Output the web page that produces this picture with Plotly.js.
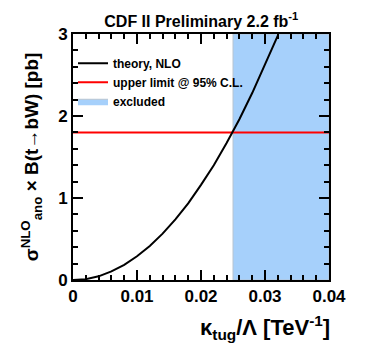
<!DOCTYPE html>
<html>
<head>
<meta charset="utf-8">
<script src="https://cdn.plot.ly/plotly-3.0.1.min.js"></script>
<style>
  body { margin: 0; background: #fff; }
  #plotArea { width: 366px; height: 351px; }
</style>
</head>
<body>
<div id="plotArea"></div>
<script>
// theory curve, NLO
var kappa = [0, 0.002, 0.004, 0.006, 0.008, 0.010, 0.012, 0.014, 0.016,
             0.018, 0.020, 0.022, 0.024, 0.026, 0.028, 0.030, 0.032];
var sigmaNLO = [0, 0.01, 0.045, 0.105, 0.185, 0.29, 0.415, 0.565, 0.74,
                0.935, 1.16, 1.40, 1.67, 1.96, 2.28, 2.62, 2.98];

// 95% C.L. upper limit
var limitX = [0, 0.04];
var limitY = [1.8, 1.8];

// excluded region
var excludedX = [0.025, 0.04, 0.04, 0.025, 0.025];
var excludedY = [0, 0, 3, 3, 0];

var xRange = [0, 0.04];
var yRange = [0, 3];

var excluded = {
    x: excludedX, y: excludedY,
    mode: 'lines', fill: 'toself',
    fillcolor: '#a6d0fb',
    line: { color: '#b8c4d0', width: 1 },
    name: 'excluded'
};

var limit = {
    x: limitX, y: limitY,
    mode: 'lines',
    line: { color: '#ff0000', width: 2 },
    name: 'upper limit @ 95% C.L.'
};

var theory = {
    x: kappa, y: sigmaNLO,
    mode: 'lines', line: { color: '#000000', width: 2 },
    name: 'theory, NLO'
};

var data = [excluded, limit, theory];

// tick style shared by the main axes and an empty overlay pair
function tickAxis(range, dtick, minorDtick) {
    return {
        range: range, dtick: dtick,
        ticks: 'inside', ticklen: 10, tickwidth: 1.5, tickcolor: '#000000',
        minor: { ticks: 'inside', dtick: minorDtick, ticklen: 5, tickwidth: 1.5, tickcolor: '#000000' },
        showline: true, linecolor: '#000000', linewidth: 2, mirror: 'ticks',
        showgrid: false, zeroline: false
    };
}

var xaxis = tickAxis(xRange, 0.01, 0.002);
xaxis.tickfont = { size: 17, weight: 'bold' };

var yaxis = tickAxis(yRange, 1, 0.2);
yaxis.tickfont = { size: 17, weight: 'bold' };
yaxis.title = {
    text: 'σ<sup>NLO</sup><sub>ano</sub> × B(t→bW) [pb]',
    font: { size: 19, weight: 'bold' },
    standoff: 14
};

var xaxis2 = tickAxis(xRange, 0.01, 0.002);
xaxis2.overlaying = 'x';
xaxis2.anchor = 'y2';
xaxis2.showticklabels = false;

var yaxis2 = tickAxis(yRange, 1, 0.2);
yaxis2.overlaying = 'y';
yaxis2.anchor = 'x2';
yaxis2.side = 'left';
yaxis2.showticklabels = false;

var layout = {
    width: 366, height: 351,
    margin: { l: 73, r: 37, t: 34, b: 71 },
    font: { family: 'Liberation Sans', color: '#000000' },
    showlegend: true,
    legend: {
        x: 0.0, y: 0.94, xanchor: 'left', yanchor: 'top',
        bgcolor: 'rgba(0,0,0,0)', traceorder: 'reversed',
        font: { size: 12, weight: 'bold' },
        itemwidth: 30
    },
    title: {
        text: 'CDF II Preliminary 2.2 fb<sup>-1</sup>',
        font: { size: 16, weight: 'bold' },
        x: 0.55, xanchor: 'center', y: 0.94, yanchor: 'middle'
    },
    xaxis: xaxis,
    yaxis: yaxis,
    xaxis2: xaxis2,
    yaxis2: yaxis2,
    annotations: [{
        xref: 'paper', yref: 'paper', x: 1.01, y: -0.12,
        xanchor: 'right', yanchor: 'top', showarrow: false,
        text: 'κ<sub>tug</sub>/Λ [TeV<sup>-1</sup>]',
        font: { size: 22, weight: 'bold' }
    }]
};

Plotly.newPlot('plotArea', data, layout, { displayModeBar: false });
</script>
</body>
</html>
